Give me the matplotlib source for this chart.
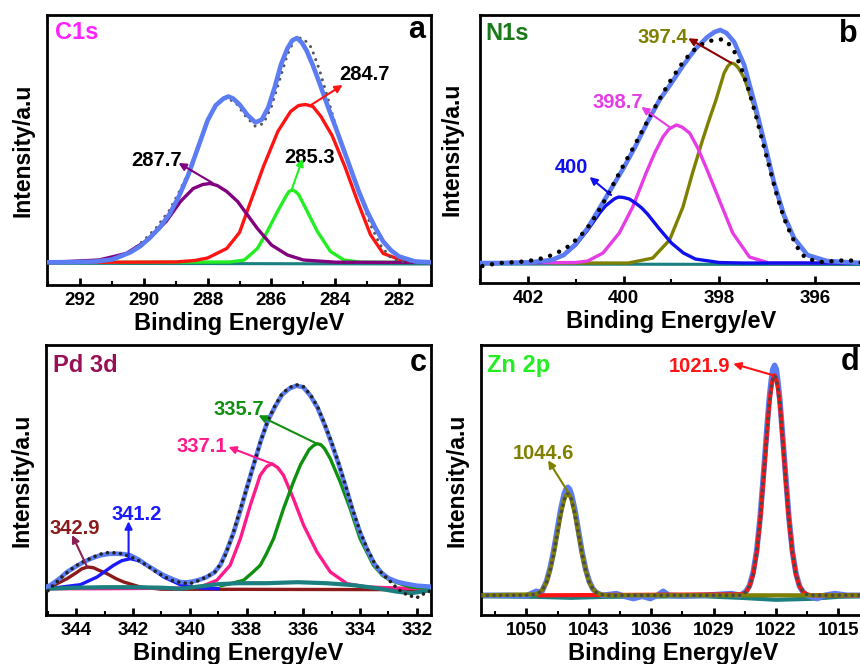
import matplotlib
matplotlib.use('Agg')
import matplotlib.pyplot as plt
from matplotlib.ticker import MultipleLocator

plt.rcParams['font.family'] = ['Liberation Sans', 'DejaVu Sans']
plt.rcParams['font.weight'] = 'bold'
plt.rcParams['axes.labelweight'] = 'bold'

# ---------------- (a) C1s ----------------
a_env_x = [293.0, 292.0, 291.5, 291.0, 290.7, 290.4, 290.1, 289.8, 289.5, 289.2, 288.9, 288.6, 288.3,
           288.0, 287.75, 287.5, 287.35, 287.2, 287.0, 286.75, 286.5, 286.3, 286.1, 285.9, 285.7, 285.5,
           285.35, 285.2, 285.05, 284.9, 284.7, 284.5, 284.25, 284.0, 283.75, 283.5, 283.25, 283.0,
           282.75, 282.5, 282.25, 282.0, 281.5, 281.0]
a_env = [0.2, 0.5, 1, 3, 6.5, 10.5, 16.5, 25, 35, 48, 66, 88, 115, 142, 157, 164, 166, 164, 158, 147.5,
         140, 143, 155, 175, 198, 214, 222, 224.5, 220, 212, 197, 180, 157.5, 136, 114, 92, 70, 51, 35,
         21, 12, 6, 1, 0.2]
a_raw_x = [293.0, 292.0, 291.0, 290.5, 290.0, 289.6, 289.2, 288.9, 288.6, 288.3, 288.0, 287.7, 287.4,
           287.1, 286.8, 286.5, 286.25, 286.0, 285.75, 285.5, 285.25, 285.0, 284.75, 284.5, 284.25,
           284.0, 283.75, 283.5, 283.2, 282.9, 282.6, 282.3, 282.0, 281.6, 281.0]
a_raw = [0, 0.5, 2, 9, 22, 35, 52, 70, 90, 116, 143, 158, 165, 159, 146, 136, 139, 156, 182, 208, 225,
         224, 215, 193, 166, 138, 114, 92, 66, 38, 18, 6, 1, 0.5, 0]
a_purple_x = [293.0, 291.4, 290.55, 289.9, 289.3, 288.85, 288.45, 288.15, 287.93, 287.7, 287.4, 287.06,
              286.75, 286.44, 286.0, 285.5, 285.0, 284.0, 281.0]
a_purple = [0, 2.5, 9, 22, 41, 61, 74, 78, 79, 77, 71, 61, 47.5, 34, 17.5, 7.5, 2.5, 0.3, 0]
a_red_x = [293.0, 289.0, 288.4, 288.0, 287.4, 287.0, 286.65, 286.25, 285.8, 285.4, 285.15, 284.93,
           284.7, 284.45, 284.1, 283.7, 283.3, 282.9, 282.5, 281.85, 281.0]
a_red = [0, 0.5, 2, 4.5, 14, 30, 61, 96, 131, 151, 157, 158, 156, 146, 127, 96, 61, 28, 9, 1.5, 0]
a_green_x = [293.0, 287.3, 286.85, 286.44, 286.13, 285.81, 285.55, 285.45, 285.34, 285.25, 285.15,
             284.98, 284.56, 284.15, 283.73, 283.2, 281.0]
a_green = [0, 0.5, 2.5, 14, 31, 51, 66, 71, 72.5, 71, 68, 57.5, 31, 11, 2.5, 0.3, 0]
a_base_x = [293.0, 281.0]
a_base = [-0.8, -1.5]

# ---------------- (b) N1s ----------------
b_env_x = [403.0, 402.5, 402.0, 401.5, 401.25, 401.0, 400.75, 400.5, 400.25, 400.0, 399.75, 399.5,
           399.25, 399.0, 398.75, 398.5, 398.25, 398.1, 397.98, 397.85, 397.69, 397.48, 397.27,
           397.06, 396.86, 396.65, 396.44, 396.16, 395.75, 395.0]
b_env = [0, 0, 0.5, 3, 8, 19, 35, 55, 75, 95, 117, 141, 163, 180, 198, 214, 226, 231, 233, 230, 221,
         198, 161, 121, 81, 48, 25, 8, 2, 0]
b_raw_x = [402.95, 402.6, 402.2, 401.85, 401.6, 401.4, 401.2, 401.0, 400.8, 400.6, 400.4, 400.2, 400.0,
           399.8, 399.6, 399.4, 399.2, 399.0, 398.8, 398.6, 398.4, 398.2, 398.0, 397.85, 397.7, 397.55,
           397.4, 397.25, 397.1, 396.95, 396.8, 396.65, 396.5, 396.35, 396.2, 395.9, 395.3, 395.0]
b_raw = [-3, 0, 1, 3, 6, 10, 15, 23, 32, 46, 62, 80, 98, 115, 133, 151, 168, 184, 198, 210, 218, 222,
         224, 222, 213, 196, 175, 150, 122, 95, 68, 45, 28, 14, 5, 1, 3, 0]
b_400_x = [403.0, 401.75, 401.5, 401.25, 401.0, 400.75, 400.5, 400.38, 400.25, 400.18, 400.1, 400.0,
           399.88, 399.75, 399.62, 399.5, 399.25, 399.0, 398.75, 398.5, 398.0, 397.5, 395.0]
b_400 = [0, 1, 3, 8, 18, 33, 50, 57, 62, 64.5, 66, 65.5, 64, 60, 55, 49, 34, 20, 10, 4, 0.5, 0, 0]
b_3987_x = [403.0, 401.0, 400.75, 400.43, 400.09, 399.81, 399.53, 399.35, 399.18, 399.05, 398.9,
            398.78, 398.62, 398.45, 398.28, 398.0, 397.72, 397.37, 396.96, 395.0]
b_3987 = [0, 0.5, 2, 10, 30, 56, 90, 110, 126, 134, 138, 136, 130, 115, 96, 63, 30, 6, 0, 0]
b_3974_x = [401.5, 399.9, 399.39, 399.04, 398.76, 398.56, 398.35, 398.2, 398.07, 397.9, 397.82, 397.75,
            397.68, 397.6, 397.48, 397.27, 397.06, 396.86, 396.65, 396.44, 396.16, 395.8, 395.0]
b_3974 = [0, 0, 5, 23, 56, 90, 123, 145, 163, 190, 197, 200, 199, 195, 185, 156, 118, 80, 46, 25, 8,
          1.5, 0]
b_base_x = [403.0, 395.0]
b_base = [-1.0, -1.5]

# ---------------- (c) Pd 3d ----------------
c_env_x = [345.05, 344.92, 344.6, 344.33, 344.0, 343.74, 343.45, 343.15, 342.85, 342.57, 342.3, 342.1,
           341.8, 341.51, 341.2, 340.92, 340.6, 340.34, 340.1, 339.87, 339.6, 339.4, 339.15, 338.93,
           338.7, 338.46, 338.2, 338.0, 337.75, 337.5, 337.25, 337.0, 336.75, 336.5, 336.25, 336.0,
           335.75, 335.5, 335.25, 335.0, 334.75, 334.5, 334.25, 334.0, 333.75, 333.5, 333.25, 333.0,
           332.7, 332.4, 332.0, 331.5]
c_env = [2, 3.4, 10, 16.7, 22.5, 26.7, 30.5, 33.4, 34.8, 35, 34.5, 33.4, 29, 23.4, 18, 13.4, 9.5, 6.7,
         6.3, 7.4, 9.5, 11.7, 16, 23.4, 38, 56, 80, 100, 124, 148, 168, 182, 194, 200, 203, 201.5, 193,
         181, 164, 145, 124, 101, 77, 56, 39, 25, 16, 10.5, 7, 5, 3, 2]
c_raw_x = [345.0, 344.8, 344.5, 344.2, 343.9, 343.6, 343.3, 343.0, 342.7, 342.4, 342.1, 341.8, 341.5,
           341.2, 340.9, 340.6, 340.3, 340.0, 339.7, 339.4, 339.1, 338.8, 338.5, 338.25, 338.0, 337.75,
           337.5, 337.25, 337.0, 336.75, 336.5, 336.25, 336.0, 335.75, 335.5, 335.25, 335.0, 334.75,
           334.5, 334.25, 334.0, 333.75, 333.5, 333.25, 333.0, 332.75, 332.5, 332.25, 332.0, 331.75,
           331.5]
c_raw = [-2, 4, 12, 19, 25, 29, 33, 36, 36, 35, 32, 28, 23, 17, 12, 8, 6, 5, 8, 12, 17, 30, 53, 77,
         100, 124, 148, 168, 183, 195, 201, 204, 202, 194, 182, 165, 146, 125, 102, 78, 57, 40, 26, 16,
         9, 2, -4, -7, -9, -5, -2]
c_3429_x = [345.05, 344.8, 344.33, 344.0, 343.8, 343.6, 343.4, 343.25, 342.92, 342.6, 342.33, 341.75,
            341.0, 331.5]
c_3429 = [1, 3.4, 10, 16, 20, 21.7, 21, 19, 15, 10, 6.7, 1.7, -0.5, -1]
c_3412_x = [345.05, 344.8, 343.86, 343.27, 342.69, 342.4, 342.1, 341.8, 341.51, 340.92, 340.34,
            339.63, 339.0]
c_3412 = [0, 0.7, 4, 11.7, 23.4, 28, 30, 28, 23.4, 11.7, 4, 0.7, 0]
c_3371_x = [345.05, 343.0, 340.5, 339.63, 339.05, 338.58, 338.22, 337.87, 337.52, 337.3, 337.11,
            336.9, 336.7, 336.35, 335.99, 335.52, 335.05, 334.46, 333.76, 332.5, 331.5]
c_3371 = [0, 0, 0.5, 1.7, 8.4, 23.4, 50, 83.4, 113.4, 122, 125, 121, 113.4, 90, 63.4, 36.7, 16.7, 5,
          1.7, 0.5, 0]
c_3357_x = [338.9, 338.58, 338.11, 337.8, 337.52, 337.3, 337.05, 336.7, 336.35, 336.1, 335.8, 335.65,
            335.52, 335.38, 335.25, 335.05, 334.7, 334.35, 334.0, 333.53, 333.2, 332.94, 332.24, 331.5]
c_3357 = [3, 5, 8.4, 16, 23.4, 35, 50, 80, 106.7, 124, 139, 143, 145, 144, 140, 130, 106.7, 80, 50,
          23.4, 13, 8.4, 1.7, 0]
c_base_x = [345.05, 344.0, 343.0, 342.0, 341.0, 340.3, 339.6, 339.0, 338.3, 337.3, 336.2, 335.2,
            334.3, 333.4, 332.7, 332.2, 331.5]
c_base = [0, 1, 1.5, 1.5, 1, 0, 2.5, 4.5, 5.5, 5.5, 6.5, 5.5, 3.7, 0.5, -3, -4.5, -1.5]

# ---------------- (d) Zn 2p ----------------
d_env_x = [1055.1, 1052.0, 1050.0, 1048.9, 1048.3, 1047.75, 1047.35, 1046.95, 1046.55, 1046.15,
           1045.75, 1045.55, 1045.35, 1045.15, 1044.95, 1044.55, 1044.15, 1043.75, 1043.35, 1042.95,
           1042.55, 1042.15, 1041.5, 1040.5, 1039.9, 1039.0, 1038.0, 1037.0, 1036.1, 1035.3, 1034.65,
           1034.0, 1032.4, 1030.0, 1027.0, 1026.0, 1025.35, 1024.95, 1024.55, 1024.15, 1023.75,
           1023.35, 1022.95, 1022.75, 1022.55, 1022.35, 1022.15, 1021.95, 1021.75, 1021.55, 1021.35,
           1020.95, 1020.55, 1020.15, 1019.75, 1019.35, 1018.95, 1018.5, 1017.4, 1016.5, 1015.4,
           1014.0, 1012.0]
d_env = [0, 0, -0.5, 4, 3, 14, 27, 44, 65, 86, 102, 106, 108, 106, 101, 85, 64, 43, 26, 14, 6.5, 2.7,
         0, 1, 1.7, -1, -3.3, -1, -3.3, 0, 4, 0, -0.7, 0, 1.7, 0, 4, 10, 23, 45, 80, 126, 174, 196, 213,
         226, 230, 226, 212, 195, 172, 125, 79, 44, 22, 9, 3.3, 0, -3.3, 0, 1.7, 0, 0]
d_raw_x = [1055.1, 1050.0, 1048.95, 1048.55, 1048.15, 1047.75, 1047.35, 1046.95, 1046.55, 1046.15,
           1045.75, 1045.55, 1045.35, 1045.15, 1044.95, 1044.55, 1044.15, 1043.75, 1043.35, 1042.95,
           1042.55, 1042.15, 1041.75, 1041.0, 1026.0, 1025.75, 1025.35, 1024.95, 1024.55, 1024.15,
           1023.75, 1023.35, 1022.95, 1022.75, 1022.55, 1022.35, 1022.15, 1021.95, 1021.75, 1021.55,
           1021.35, 1020.95, 1020.55, 1020.15, 1019.75, 1019.35, 1018.95, 1018.55, 1018.0, 1012.0]
d_raw = [0, 0, 1, 2.7, 6.4, 13, 25, 41, 61, 81, 96, 100, 102, 100, 96, 81, 61, 41, 25, 13, 6.4, 2.7,
         1, 0, 0, 1, 3.3, 9, 21, 43, 77, 122, 169, 191, 206, 216, 220, 216, 206, 191, 169, 122, 77, 43,
         21, 9, 3.3, 1, 0, 0]
d_1044_x = [1055.1, 1048.95, 1048.55, 1048.15, 1047.75, 1047.35, 1046.95, 1046.55, 1046.15, 1045.75,
            1045.55, 1045.35, 1045.15, 1044.95, 1044.55, 1044.15, 1043.75, 1043.35, 1042.95, 1042.55,
            1042.15, 1041.75, 1041.0, 1012.0]
d_1044 = [0, 1, 2.7, 6.4, 13, 25, 41, 61, 81, 96, 100, 102, 100, 96, 81, 61, 41, 25, 13, 6.4, 2.7, 1,
          0, 0]
d_1021_x = [1048.6, 1025.75, 1025.35, 1024.95, 1024.55, 1024.15, 1023.75, 1023.35, 1022.95, 1022.75,
            1022.55, 1022.35, 1022.15, 1021.95, 1021.75, 1021.55, 1021.35, 1020.95, 1020.55, 1020.15,
            1019.75, 1019.35, 1018.95, 1018.55, 1018.0, 1012.0]
d_1021 = [0, 1, 3.3, 9, 21, 43, 77, 122, 169, 191, 206, 216, 220, 216, 206, 191, 169, 122, 77, 43, 21,
          9, 3.3, 1, 0, 0]
d_base_x = [1055.1, 1049.0, 1045.0, 1041.0, 1030.0, 1026.0, 1022.0, 1018.0, 1015.0, 1012.0]
d_base = [-1, -1.5, -2.5, -1.5, -1, -2.5, -4.5, -3.5, -1.5, -1]

ENV = '#5b7cf2'
TEAL = '#1b7f7f'


def dots(ax, x, y, color, lw, gap, z=6):
    ax.plot(x, y, color=color, lw=lw, linestyle=(0, (0.01, gap)),
            dash_capstyle='round', zorder=z)


def note(ax, text, color, txy, tail, head, acolor=None):
    ax.text(txy[0], txy[1], text, color=color, fontsize=14.5, ha='center',
            va='baseline', zorder=10)
    ax.annotate('', xy=head, xytext=tail, zorder=10,
                arrowprops=dict(arrowstyle='-|>', color=acolor or color, lw=1.5,
                                mutation_scale=11, shrinkA=0, shrinkB=0))


def style(ax, xlim, ylim, major, minor, title, tcolor, tx, ty, letter, lx, ly, ypad):
    ax.set_xlim(*xlim)
    ax.set_ylim(*ylim)
    ax.xaxis.set_major_locator(MultipleLocator(major))
    ax.xaxis.set_minor_locator(MultipleLocator(minor))
    ax.tick_params(axis='x', which='major', direction='in', length=5, width=2,
                   labelsize=13.5, pad=5)
    ax.tick_params(axis='x', which='minor', direction='in', length=3, width=1.5)
    ax.tick_params(axis='y', which='both', left=False, labelleft=False)
    for s in ax.spines.values():
        s.set_linewidth(2)
    ax.set_xlabel('Binding Energy/eV', fontsize=17, labelpad=2)
    ax.set_ylabel('Intensity/a.u', fontsize=16.5, labelpad=ypad)
    ax.text(tx, ty, title, color=tcolor, fontsize=17, transform=ax.transAxes,
            va='baseline')
    ax.text(lx, ly, letter, fontsize=22, transform=ax.transAxes, ha='right',
            va='baseline')


fig = plt.figure(figsize=(8.6, 6.64), dpi=100)
axa = fig.add_axes([0.0547, 0.5708, 0.4465, 0.4066])
axb = fig.add_axes([0.5581, 0.5733, 0.4453, 0.4041])
axc = fig.add_axes([0.0535, 0.0738, 0.4477, 0.4066])
axd = fig.add_axes([0.5593, 0.0738, 0.4465, 0.4066])

# (a)
axa.plot(a_base_x, a_base, color=TEAL, lw=2.2, zorder=1)
axa.plot(a_green_x, a_green, color='#22ee22', lw=2.4, zorder=2)
axa.plot(a_red_x, a_red, color='#ff1414', lw=2.4, zorder=3)
axa.plot(a_purple_x, a_purple, color='#800080', lw=2.4, zorder=4)
dots(axa, a_raw_x, a_raw, '#555555', 2.2, 2.3, z=5)
axa.plot(a_env_x, a_env, color=ENV, lw=3.3, zorder=7)
note(axa, '287.7', 'black', (289.6, 96.5), (287.84, 79.5), (288.91, 99.5), '#800080')
note(axa, '284.7', 'black', (283.09, 182.5), (284.76, 157.5), (283.77, 177.5), '#ff1414')
note(axa, '285.3', 'black', (284.81, 99), (285.37, 72.5), (285.02, 104), '#22ee22')
style(axa, (293.03, 281.0), (-22.5, 247.5), 2, 1, 'C1s', '#ff22ff', 0.021, 0.91,
      'a', 0.984, 0.915, 9)

# (b)
axb.plot(b_base_x, b_base, color=TEAL, lw=2.2, zorder=1)
axb.plot(b_3974_x, b_3974, color='#808000', lw=2.4, zorder=2)
axb.plot(b_3987_x, b_3987, color='#e63ce6', lw=2.4, zorder=3)
axb.plot(b_400_x, b_400, color='#1010ee', lw=2.4, zorder=4)
axb.plot(b_env_x, b_env, color=ENV, lw=3.3, zorder=5)
dots(axb, b_raw_x, b_raw, '#000000', 3.2, 2.2, z=6)
note(axb, '400', '#1010ee', (401.09, 90.3), (400.26, 68), (400.71, 86))
note(axb, '398.7', '#e63ce6', (400.13, 154.7), (399.04, 136), (399.63, 156))
note(axb, '397.4', '#808000', (399.18, 220.3), (397.75, 200), (398.65, 224.7), '#8b0000')
style(axb, (403.0, 395.0), (-20.3, 248.0), 2, 1, 'N1s', '#1a7a1a', 0.013, 0.907,
      'b', 0.987, 0.9, 12)

# (c)
axc.plot(c_3429_x, c_3429, color='#8b1a1a', lw=2.4, zorder=1)
axc.plot(c_3371_x, c_3371, color='#ff1a8c', lw=2.4, zorder=2)
axc.plot(c_3357_x, c_3357, color='#0f900f', lw=2.4, zorder=3)
axc.plot(c_3412_x, c_3412, color='#1a1aff', lw=2.4, zorder=4)
axc.plot(c_base_x, c_base, color=TEAL, lw=3.0, zorder=5)
axc.plot(c_env_x, c_env, color=ENV, lw=3.3, zorder=6)
dots(axc, c_raw_x, c_raw, '#222222', 2.6, 1.8, z=7)
note(axc, '342.9', '#8b1a1a', (344.04, 55), (343.62, 21.7), (344.15, 53.7), '#8b2252')
note(axc, '341.2', '#1a1aff', (341.89, 68.4), (342.16, 30), (342.16, 67.4))
note(axc, '337.1', '#ff1a8c', (339.57, 136.7), (337.11, 125), (338.64, 141.7))
note(axc, '335.7', '#0f900f', (338.28, 173.4), (335.52, 145), (337.58, 173.4))
style(axc, (345.07, 331.5), (-26.3, 243.7), 2, 1, 'Pd 3d', '#990f55', 0.018, 0.9,
      'c', 0.99, 0.904, 9)

# (d)
axd.plot(d_base_x, d_base, color=TEAL, lw=3.0, zorder=1)
axd.plot(d_env_x, d_env, color=ENV, lw=4.0, zorder=2)
axd.plot(d_1021_x, d_1021, color='#ff1414', lw=3.0, zorder=3)
axd.plot(d_1044_x, d_1044, color='#7f7f00', lw=3.0, zorder=4)
dots(axd, d_raw_x, d_raw, '#4a4a4a', 2.6, 1.8, z=6)
note(axd, '1021.9', '#ff1414', (1030.62, 223.3), (1022.29, 220), (1026.79, 231.6))
note(axd, '1044.6', '#7f7f00', (1048.13, 136), (1045.33, 103.3), (1047.57, 135))
style(axd, (1055.1, 1012.0), (-19.7, 250.3), 7, 3.5, 'Zn 2p', '#22ee22', 0.016, 0.9,
      'd', 0.987, 0.907, 9)

fig.savefig('out.png', dpi=100)
